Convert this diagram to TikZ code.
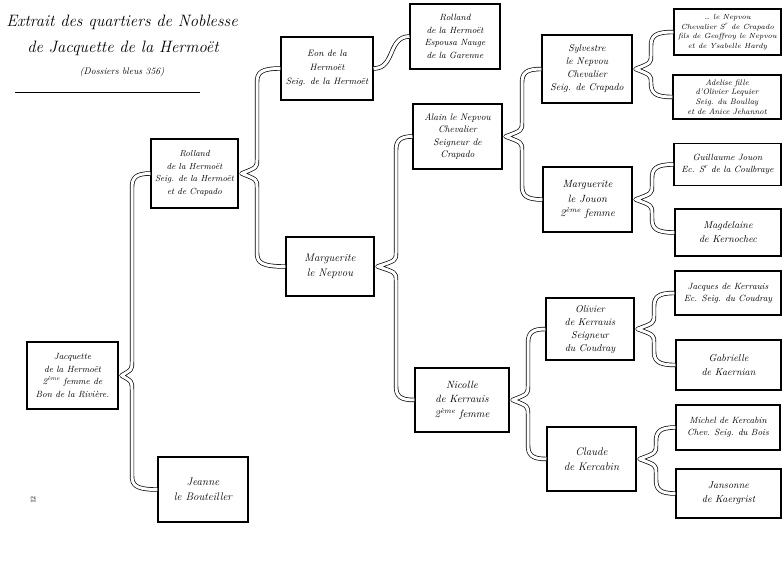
\documentclass[tikz,border=0pt]{standalone}
\usetikzlibrary{calc}
\tikzset{
 box/.style={draw, line width=1.1pt, align=center, inner sep=1pt, font=\itshape\fontsize{9.5}{12.5}\selectfont},
 bigbox/.style={box, font=\itshape\fontsize{11}{15}\selectfont},
 nbox/.style={box, font=\itshape\fontsize{9}{12.5}\selectfont},
 rbox/.style={box, font=\itshape\fontsize{9}{12}\selectfont},
 sbox/.style={box, font=\itshape\fontsize{7.4}{9.6}\selectfont},
 conn/.style={line width=0.7pt, double distance=3pt, line join=round},
 title/.style={font=\itshape\fontsize{16.5}{19}\selectfont},
}
\newcommand\famlink[4]{%
 \draw[conn] let \p1=(#2.west), \p2=(#1.east), \p3=(#3.west) in
 (\p1) .. controls (#4pt+4pt,\y1) and (#4pt,\y1-4pt) .. (#4pt,\y1-14pt) -- (#4pt,\y2+14pt)
 .. controls (#4pt,\y2+6pt) .. (\x2+3pt,\y2)
 .. controls (#4pt,\y2-6pt) .. (#4pt,\y2-14pt) -- (#4pt,\y3+14pt)
 .. controls (#4pt,\y3+4pt) and (#4pt+4pt,\y3) .. (\p3);}
\begin{document}
\begin{tikzpicture}[x=1pt,y=-1pt]
\useasboundingbox (0,0) rectangle (784,562);
% title
\node[title] (t1) at (122,22) {Extrait des quartiers de Noblesse};
\node[title] (t2) at (123,48) {de Jacquette de la Hermoët};
\node[font=\itshape\fontsize{9.5}{11}\selectfont] (t3) at (122,72) {(Dossiers bleus 356)};
\draw[line width=0.5pt] (15,92) -- (200,92);
\node[rotate=90, font=\fontsize{7}{8}\selectfont] (pg) at (33,500) {12};
% boxes
\node[nbox, minimum width=91pt, minimum height=67pt] (jacq) at (72.5,375.5) {Jacquette\\ de la Hermoët\\ 2\textsuperscript{ème} femme de\\ Bon de la Rivière.};
\node[bigbox, minimum width=90pt, minimum height=65pt] (jeanne) at (203,489.5) {Jeanne\\ le Bouteiller};
\node[box, font=\itshape\fontsize{8.8}{12.5}\selectfont, minimum width=87pt, minimum height=69pt] (rolland) at (194.5,173.5) {Rolland\\ de la Hermoët\\ Seig. de la Hermoët\\ et de Crapado};
\node[bigbox, minimum width=88pt, minimum height=59pt] (marg) at (330,266.5) {Marguerite\\ le Nepvou};
\node[box, font=\itshape\fontsize{9.2}{14}\selectfont, minimum width=92pt, minimum height=63pt] (eon) at (327,68.5) {Eon de la\\ Hermoët\\ Seig. de la Hermoët};
\node[nbox, minimum width=90pt, minimum height=65pt] (rolland2) at (455,36.5) {Rolland\\ de la Hermoët\\ Espousa Nauge\\ de la Garenne};
\node[box, minimum width=89pt, minimum height=65pt] (alain) at (457.5,136.5) {Alain le Nepvou\\ Chevalier\\ Seigneur de\\ Crapado};
\node[box, font=\itshape\fontsize{10.5}{14.5}\selectfont, minimum width=94pt, minimum height=64pt] (nicolle) at (462,400) {Nicolle\\ de Kerrauis\\ 2\textsuperscript{ème} femme};
\node[box, font=\itshape\fontsize{9.8}{13}\selectfont, minimum width=90pt, minimum height=68pt] (sylv) at (587,69) {Sylvestre\\ le Nepvou\\ Chevalier\\ Seig. de Crapado};
\node[box, font=\itshape\fontsize{10.5}{14.5}\selectfont, minimum width=89pt, minimum height=65pt] (margj) at (587.5,199.5) {Marguerite\\ le Jouon\\ 2\textsuperscript{ème} femme};
\node[box, font=\itshape\fontsize{10}{13}\selectfont, minimum width=88pt, minimum height=62pt] (olivier) at (590,329) {Olivier\\ de Kerrauis\\ Seigneur\\ du Coudray};
\node[bigbox, minimum width=89pt, minimum height=64pt] (claude) at (591.5,459) {Claude\\ de Kercabin};
\node[sbox, minimum width=107pt, minimum height=46pt] (nepvou) at (727.5,32) {\ldots\ le Nepvou\\ Chevalier S\textsuperscript{r} de Crapado\\ fils de Geoffroy le Nepvou\\ et de Ysabelle Hardy};
\node[sbox, font=\itshape\fontsize{8}{9.6}\selectfont, minimum width=108pt, minimum height=44pt] (adelise) at (727,97) {Adelise fille\\ d'Olivier Lequier\\ Seig. du Boullay\\ et de Anice Jehannot};
\node[rbox, minimum width=107pt, minimum height=42pt] (guill) at (727.5,164.5) {Guillaume Jouon\\ Ec. S\textsuperscript{r} de la Coulbraye};
\node[rbox, font=\itshape\fontsize{10}{14}\selectfont, minimum width=106pt, minimum height=47pt] (magd) at (728,232.5) {Magdelaine\\ de Kernochec};
\node[rbox, minimum width=106pt, minimum height=44pt] (jacques) at (728,293) {Jacques de Kerrauis\\ Ec. Seig. du Coudray};
\node[rbox, font=\itshape\fontsize{10}{14}\selectfont, minimum width=105pt, minimum height=50pt] (gabr) at (728.5,365) {Gabrielle\\ de Kaernian};
\node[rbox, minimum width=104pt, minimum height=45pt] (michel) at (728,427.5) {Michel de Kercabin\\ Chev. Seig. du Bois};
\node[rbox, font=\itshape\fontsize{10}{14}\selectfont, minimum width=105pt, minimum height=49pt] (jans) at (728.5,493.5) {Jansonne\\ de Kaergrist};
% connectors
\famlink{jacq}{rolland}{jeanne}{132}
\famlink{rolland}{eon}{marg}{257}
\famlink{marg}{alain}{nicolle}{396}
\famlink{alain}{sylv}{margj}{522}
\famlink{nicolle}{olivier}{claude}{528}
\famlink{sylv}{nepvou}{adelise}{651}
\famlink{margj}{guill}{magd}{652}
\famlink{olivier}{jacques}{gabr}{654}
\famlink{claude}{michel}{jans}{656}
\draw[conn] (eon.east) .. controls +(22,0) and +(-22,0) .. (rolland2.west);
\end{tikzpicture}
\end{document}
